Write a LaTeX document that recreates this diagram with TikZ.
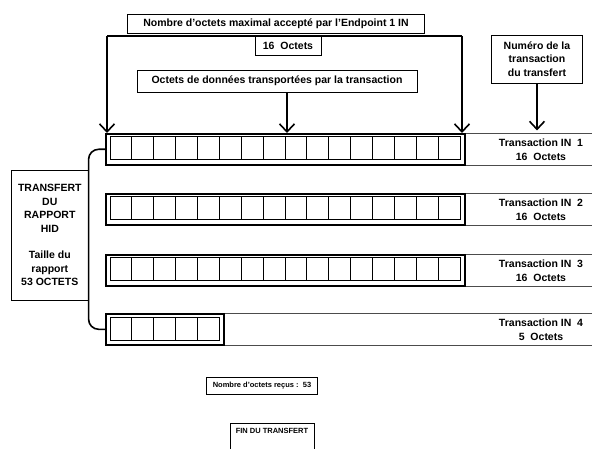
\documentclass[tikz,border=0pt]{standalone}
\usepackage{fontspec}
\setmainfont{Liberation Sans}
\usetikzlibrary{arrows.meta, positioning}

\tikzset{
  boite/.style={draw, line width=0.9pt, inner sep=2pt, align=center,
    font=\bfseries\fontsize{10.5}{13.5}\selectfont},
  petite/.style={boite, font=\bfseries\fontsize{7.5}{9}\selectfont},
  txt/.style={align=center, font=\bfseries\fontsize{10.5}{14}\selectfont},
  fleche/.style={line width=1.6pt, -{Straight Barb[length=8pt,width=15pt,line width=1.6pt]}},
  trait/.style={line width=0.7pt, black!70},
}

% une rangee d'octets : nom, haut, nombre d'octets
\newcommand{\rangee}[3]{%
  \node[draw, line width=1.6pt, anchor=north west, inner sep=0pt,
        minimum width={#3*21.875+9}, minimum height=31] (#1) at (105,#2) {};
  \draw[line width=1pt] (110,{#2+4}) rectangle ({110+#3*21.875},{#2+27});
  \pgfmathtruncatemacro{\nb}{#3-1}
  \foreach \k in {1,...,\nb}
    \draw[line width=1pt] ({110+\k*21.875},{#2+4}) -- ++(0,23);
}

\begin{document}
\begin{tikzpicture}[x=1pt, y=-1pt, line width=1pt]
  \useasboundingbox (0,0) rectangle (592,449);
  \coordinate (bord) at (592,0);
  \coordinate (col) at (541,0);

  % boites du haut
  \node[boite, minimum width=297, minimum height=19] (maxi) at (276,24)
    {Nombre d'octets maximal accepté par l'Endpoint 1 IN};
  \node[boite, anchor=north, minimum width=66, minimum height=19] (seize) at (288,36)
    {16~~Octets};
  \node[boite, minimum width=280, minimum height=22] (donnees) at (277,81)
    {Octets de données transportées par la transaction};
  \node[boite, minimum width=91, minimum height=48] (numero) at (537,59)
    {Numéro de la\\transaction\\du transfert};

  % rangees d'octets
  \rangee{r1}{133}{16}
  \rangee{r2}{193}{16}
  \rangee{r3}{254}{16}
  \rangee{r4}{313}{5}

  % crochet du haut et fleches
  \coordinate (gauche) at (107,36);
  \coordinate (droite) at (462,36);
  \draw[line width=2pt] (gauche) -- (droite);
  \draw[fleche] (gauche) -- (gauche |- r1.north);
  \draw[fleche] (droite) -- (droite |- r1.north);
  \draw[fleche] ([xshift=10pt]donnees.south) -- ([xshift=10pt]donnees.south |- r1.north);
  \draw[fleche] (numero.south) -- ++(0,47);

  % transactions
  \foreach \r/\n/\o in {r1/1/16, r2/2/16, r3/3/16, r4/4/5} {
    \draw[trait] (\r.north east) -- (\r.north east -| bord);
    \draw[trait] (\r.south east) -- (\r.south east -| bord);
    \node[txt] (t\n) at (\r.center -| col) {Transaction IN~~\n\\\o~~Octets};
  }

  % rapport HID
  \node[boite, line width=0.6pt, minimum width=77, minimum height=130, anchor=north west]
    (hid) at (11,170) {TRANSFERT\\DU\\RAPPORT\\HID\\[13pt]Taille du\\rapport\\53 OCTETS};
  \draw[line width=1.6pt, rounded corners=10pt] (r1.west) -| (hid.east) |- (r4.west);

  % bas
  \node[petite, minimum width=111, minimum height=17] (recus) at (262,386)
    {Nombre d'octets reçus~:~~53};
  \node[petite, anchor=north, minimum width=84, inner ysep=5pt, text depth=16pt] (fin) at (272,423)
    {FIN DU TRANSFERT};
\end{tikzpicture}
\end{document}
